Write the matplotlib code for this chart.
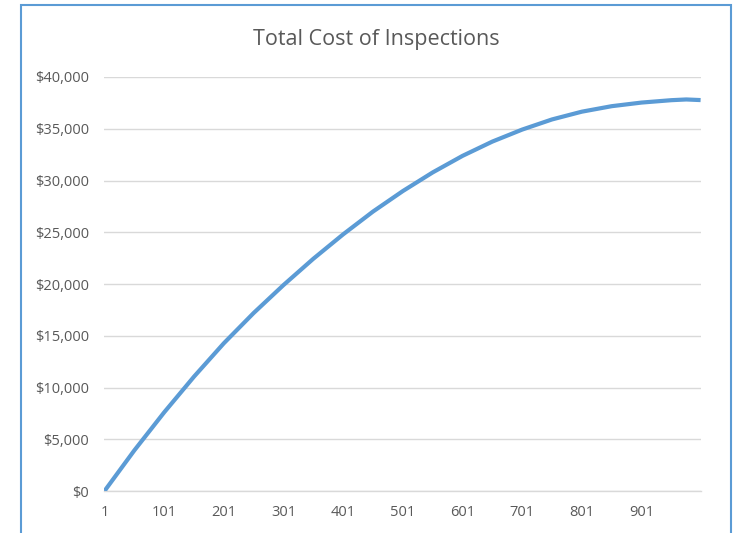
import matplotlib
matplotlib.use("Agg")
import matplotlib.pyplot as plt
from matplotlib.patches import Rectangle
from matplotlib.ticker import FuncFormatter

# Data (inspection number vs. total cost)
inspections = [1, 51, 101, 151, 201, 251, 301, 351, 401, 451, 501,
               551, 601, 651, 701, 751, 801, 851, 901, 951, 976, 1000]
total_cost = [0, 3925, 7600, 11050, 14275, 17200, 19900, 22440, 24800, 27000, 28980,
              30780, 32380, 33760, 34920, 35900, 36650, 37180, 37530, 37760, 37830, 37770]

title = "Total Cost of Inspections"
x_ticks = [1, 101, 201, 301, 401, 501, 601, 701, 801, 901]
y_ticks = [0, 5000, 10000, 15000, 20000, 25000, 30000, 35000, 40000]

W, H = 739, 533
fig = plt.figure(figsize=(W / 100, H / 100), dpi=100)
fig.patch.set_facecolor("white")

# chart border
fig.patches.append(Rectangle((21 / W, -0.05), (731 - 21) / W, 1.05 - 5 / H,
                             transform=fig.transFigure, fill=False,
                             edgecolor="#5B9BD5", linewidth=1.5, zorder=10))

left, right, top, bottom = 104.5, 700.6, 77, 491
ax = fig.add_axes([left / W, 1 - bottom / H, (right - left) / W, (bottom - top) / H])

ax.plot(inspections, total_cost, color="#5B9BD5", linewidth=3.0,
        solid_capstyle="butt", solid_joinstyle="round", zorder=3)

ax.set_xlim(1, 1000)
ax.set_ylim(0, 40000)
ax.set_xticks(x_ticks)
ax.set_xticklabels([str(v) for v in x_ticks])
ax.set_yticks(y_ticks)
ax.yaxis.set_major_formatter(FuncFormatter(lambda v, p: "${:,.0f}".format(v)))

font = "Open Sans"
for lab in ax.get_xticklabels() + ax.get_yticklabels():
    lab.set_fontfamily(font)
    lab.set_fontsize(10.5)
    lab.set_color("#595959")

ax.tick_params(axis="both", length=0)
ax.tick_params(axis="x", pad=10)
ax.tick_params(axis="y", pad=11)
ax.grid(axis="y", color="#D9D9D9", linewidth=1.0)
ax.set_axisbelow(True)
for s in ["top", "right", "left"]:
    ax.spines[s].set_visible(False)
ax.spines["bottom"].set_color("#D9D9D9")
ax.spines["bottom"].set_linewidth(1.0)

fig.text(376 / W, 1 - 39 / H, title, ha="center", va="center",
         fontsize=15.5, color="#595959", family=font)

fig.savefig("out.png", dpi=100)
